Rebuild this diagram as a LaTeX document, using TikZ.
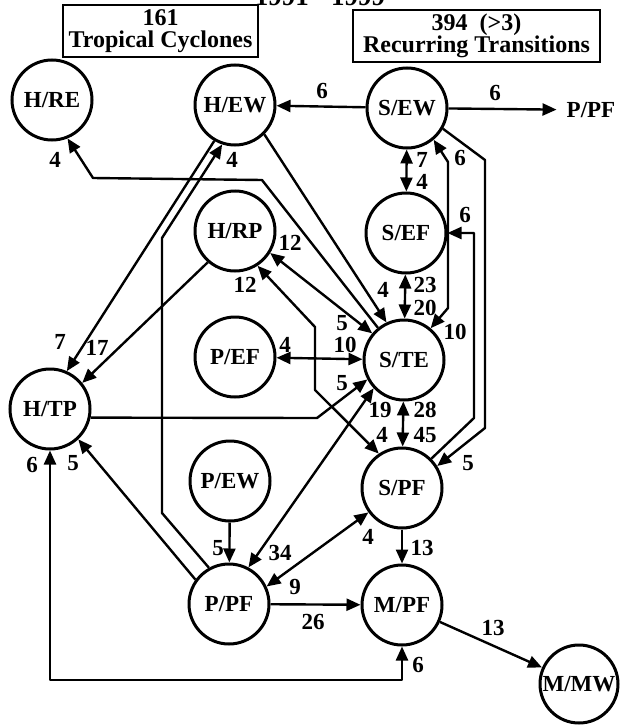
\documentclass[tikz,border=0pt]{standalone}
\usepackage{fontspec}
\setmainfont{Liberation Serif}
\usetikzlibrary{arrows.meta}
\begin{document}
\begin{tikzpicture}[x=1pt,y=-1pt,
  state/.style={circle,draw,line width=3pt,minimum size=80pt,inner sep=0pt,font=\fontsize{23}{24}\selectfont\bfseries},
  num/.style={inner sep=0pt,font=\fontsize{23}{24}\selectfont\bfseries},
  edge/.style={line width=2.4pt,line join=round},
  arr/.style={edge,-{Triangle[length=14pt,width=12pt]}},
  darr/.style={edge,{Triangle[length=14pt,width=12pt]}-{Triangle[length=14pt,width=12pt]}},
  titlebox/.style={draw,line width=1.8pt,align=center,inner sep=0pt,font=\fontsize{24}{22}\selectfont\bfseries}
]
\useasboundingbox (0,0) rectangle (620,725);

% title (mostly cut off at the top edge, as in the reference)
\node[font=\fontsize{27}{27}\selectfont\bfseries,anchor=base,inner sep=0pt] (title) at (320,6) {1991 - 1999};

% boxes
\node[titlebox,minimum width=195pt,minimum height=52pt] (box1) at (160.5,31) {161\\Tropical Cyclones};
\node[titlebox,minimum width=247pt,minimum height=52pt] (box2) at (476.5,36) {394~~(>3)\\Recurring Transitions};

% states
\node[state] (HRE) at (52,100) {H/RE};
\node[state] (HEW) at (235,105) {H/EW};
\node[state] (SEW) at (407,108) {S/EW};
\node[state] (SEF) at (406,233) {S/EF};
\node[state] (HRP) at (235,231) {H/RP};
\node[state] (PEF) at (235,357) {P/EF};
\node[state] (STE) at (404,360) {S/TE};
\node[state] (HTP) at (50,409) {H/TP};
\node[state] (PEW) at (230,481) {P/EW};
\node[state] (SPF) at (402,488) {S/PF};
\node[state] (PPF) at (229,604) {P/PF};
\node[state] (MPF) at (402,605) {M/PF};
\node[state,minimum size=78pt] (MMW) at (579,684) {M/MW};
\node[inner sep=2pt,font=\fontsize{23}{24}\selectfont\bfseries] (PPFt) at (591,110) {P/PF};

% coordinates for bent connectors
\coordinate (a1) at (262,180); \coordinate (a2) at (93,178);
\coordinate (b1) at (315,327); \coordinate (b2) at (315,390);
\coordinate (c1) at (317,418);
\coordinate (d1) at (162,513); \coordinate (d2) at (162,238);
\coordinate (e1) at (448,162); \coordinate (e2) at (448,308);
\coordinate (f1) at (474,418); \coordinate (f2) at (474,233);
\coordinate (g1) at (485,160); \coordinate (g2) at (485,428);
\coordinate (h1) at (200,680);

% connectors
\draw[arr] (SEW) -- (HEW);
\draw[arr,shorten >=8pt] (SEW) -- (PPFt);
\draw[darr] (SEW) -- (SEF);
\draw[darr] (SEF) -- (STE);
\draw[darr] (STE) -- (SPF);
\draw[arr] (SPF) -- (MPF);
\draw[arr] (PPF) -- (MPF);
\draw[arr] (MPF) -- (MMW);
\draw[arr] (PEW) -- (PPF);
\draw[darr] (PPF.25) -- (SPF.216);
\draw[darr] (PPF.62) -- (STE.223);
\draw[darr] (PEF) -- (STE);
\draw[darr] (HRP.-32) -- (STE.140);
\draw[arr] (HEW.-45) -- (STE.115);
\draw[arr] (HEW.240) -- (HTP.66);
\draw[arr] (HRP.229) -- (HTP.39);
\draw[arr] (PPF.144) -- (HTP.-47);
\draw[arr] (STE.129) -- (a1) -- (a2) -- (HRE.-68);
\draw[darr] (HRP.-57) -- (b1) -- (b2) -- (SPF.124);
\draw[arr] (HTP.-12) -- (c1) -- (STE.208);
\draw[arr] (PPF.119) -- (d1) -- (d2) -- (HEW.252);
\draw[darr] (SEW.-50) -- (e1) -- (e2) -- (STE.50);
\draw[arr] (SPF.45) -- (f1) -- (f2) -- (SEF.east);
\draw[arr] (SEW.-30) -- (g1) -- (g2) -- (SPF.32);
\draw[darr] (HTP.south) |- (h1) -| (MPF.south);

% labels
\node[num] (l1) at (322,91) {6};
\node[num] (l2) at (495,93) {6};
\node[num] (l3) at (55,160) {4};
\node[num] (l4) at (232,160) {4};
\node[num] (l5) at (290,243) {12};
\node[num] (l6) at (245,285) {12};
\node[num] (l7) at (60,342) {7};
\node[num] (l8) at (97,348) {17};
\node[num] (l9) at (285,345) {4};
\node[num] (l10) at (345,345) {10};
\node[num] (l11) at (342,323) {5};
\node[num] (l12) at (342,383) {5};
\node[num] (l13) at (383,290) {4};
\node[num] (l14) at (425,285) {23};
\node[num] (l15) at (425,308) {20};
\node[num] (l16) at (422,160) {7};
\node[num] (l17) at (422,182) {4};
\node[num] (l18) at (460,158) {6};
\node[num] (l19) at (465,215) {6};
\node[num] (l20) at (455,332) {10};
\node[num] (l21) at (380,410) {19};
\node[num] (l22) at (425,410) {28};
\node[num] (l23) at (382,435) {4};
\node[num] (l24) at (425,435) {45};
\node[num] (l25) at (468,463) {5};
\node[num] (l26) at (368,537) {4};
\node[num] (l27) at (422,548) {13};
\node[num] (l28) at (313,622) {26};
\node[num] (l29) at (493,628) {13};
\node[num] (l30) at (418,665) {6};
\node[num] (l31) at (295,587) {9};
\node[num] (l32) at (280,553) {34};
\node[num] (l33) at (218,548) {5};
\node[num] (l34) at (32,465) {6};
\node[num] (l35) at (73,463) {5};
\end{tikzpicture}
\end{document}
